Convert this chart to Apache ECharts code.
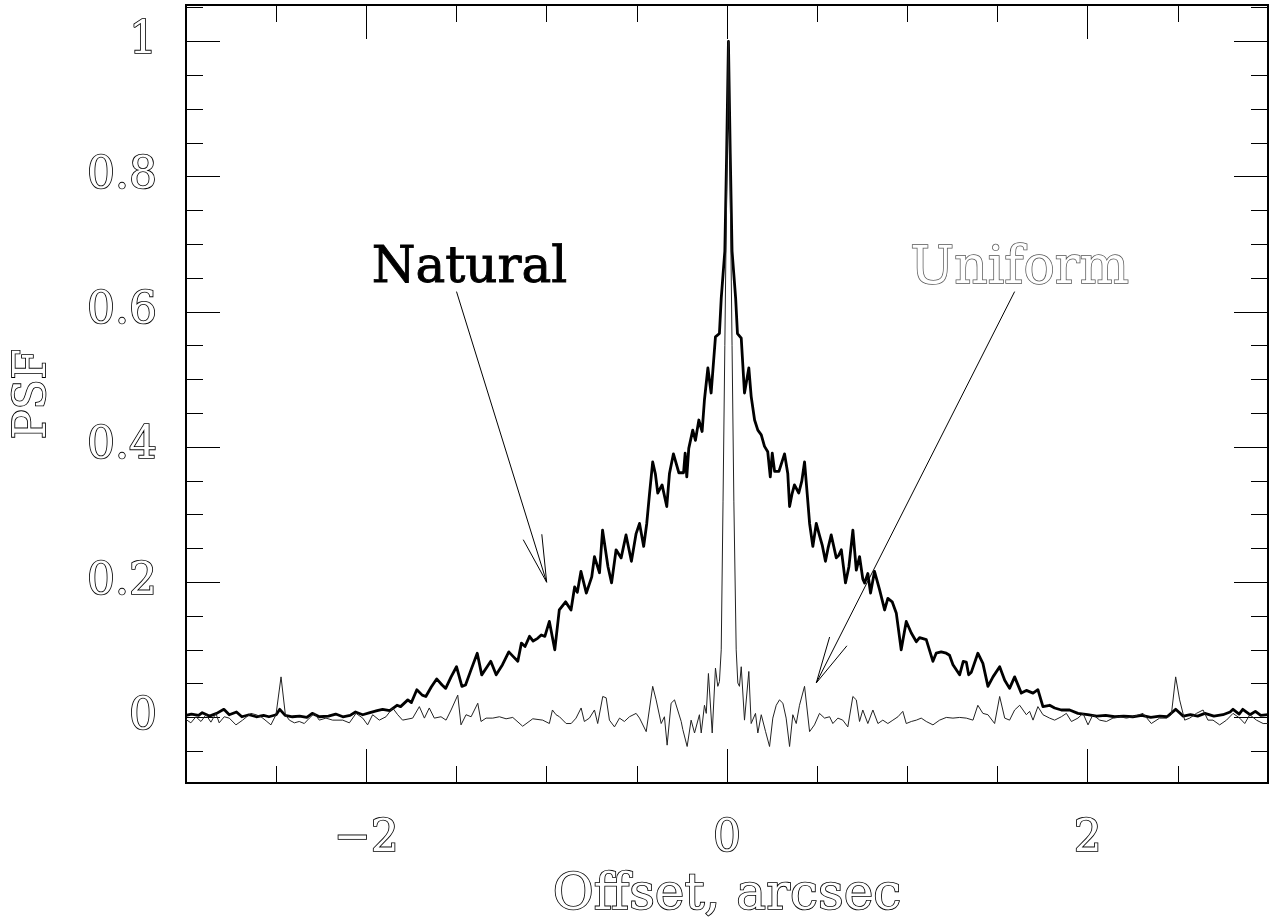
<!DOCTYPE html>
<html><head><meta charset="utf-8">
<script src="https://cdn.jsdelivr.net/npm/echarts@6/dist/echarts.min.js"></script>
<style>html,body{margin:0;padding:0;background:#fff}#c{width:1280px;height:917px}</style>
</head><body><div id="c"></div>
<script>
// ---------------- data ----------------
const xLabelValues = [-2, 0, 2];
const yLabelValues = [0, 0.2, 0.4, 0.6, 0.8, 1];
const xMinorTicks = [-2.5, -2, -1.5, -1, -0.5, 0, 0.5, 1, 1.5, 2, 2.5];
const xMajorTicks = [-2, 0, 2];
const yMinorTicks = [-0.05, 0, 0.05, 0.1, 0.15, 0.2, 0.25, 0.3, 0.35, 0.4, 0.45, 0.5, 0.55, 0.6, 0.65, 0.7, 0.75, 0.8, 0.85, 0.9, 0.95, 1, 1.05];
const yMajorTicks = [0, 0.2, 0.4, 0.6, 0.8, 1];

const naturalPoints = [
[-3.00,0.003],[-2.97,0.005],[-2.93,0.003],[-2.91,0.007],[-2.87,0.002],[-2.83,0.006],[-2.79,0.012],[-2.76,0.004],[-2.72,0.008],[-2.69,0.001],[-2.65,0.004],[-2.61,0.001],[-2.57,0.003],[-2.54,0.001],[-2.50,0.004],[-2.48,0.012],[-2.45,0.003],[-2.41,0.001],[-2.37,0.002],[-2.33,0.000],[-2.30,0.006],[-2.26,0.001],[-2.21,0.002],[-2.17,0.005],[-2.13,0.001],[-2.09,0.003],[-2.06,0.008],[-2.02,0.004],[-1.98,0.007],[-1.94,0.010],[-1.91,0.012],[-1.87,0.010],[-1.83,0.018],[-1.81,0.016],[-1.77,0.026],[-1.75,0.022],[-1.72,0.041],[-1.69,0.033],[-1.67,0.031],[-1.64,0.045],[-1.61,0.057],[-1.58,0.048],[-1.56,0.043],[-1.53,0.060],[-1.50,0.075],[-1.47,0.046],[-1.45,0.048],[-1.42,0.070],[-1.385,0.095],[-1.36,0.063],[-1.33,0.075],[-1.31,0.083],[-1.28,0.063],[-1.245,0.078],[-1.21,0.097],[-1.185,0.090],[-1.16,0.083],[-1.14,0.110],[-1.12,0.105],[-1.095,0.120],[-1.075,0.113],[-1.05,0.117],[-1.03,0.122],[-1.01,0.120],[-0.985,0.142],[-0.955,0.100],[-0.93,0.159],[-0.895,0.171],[-0.865,0.159],[-0.845,0.193],[-0.83,0.185],[-0.81,0.216],[-0.78,0.184],[-0.75,0.208],[-0.735,0.238],[-0.707,0.214],[-0.69,0.277],[-0.66,0.223],[-0.64,0.199],[-0.615,0.248],[-0.587,0.236],[-0.56,0.270],[-0.53,0.231],[-0.504,0.272],[-0.485,0.287],[-0.462,0.253],[-0.445,0.287],[-0.43,0.330],[-0.412,0.378],[-0.397,0.360],[-0.384,0.332],[-0.36,0.344],[-0.334,0.312],[-0.319,0.361],[-0.297,0.390],[-0.267,0.362],[-0.241,0.362],[-0.232,0.391],[-0.223,0.356],[-0.212,0.398],[-0.19,0.425],[-0.175,0.410],[-0.156,0.440],[-0.138,0.423],[-0.125,0.470],[-0.106,0.517],[-0.088,0.480],[-0.064,0.563],[-0.042,0.568],[-0.032,0.62],[-0.022,0.655],[-0.012,0.69],[-0.002,0.834],[0.008,1.0],[0.018,0.834],[0.028,0.69],[0.038,0.655],[0.048,0.62],[0.058,0.568],[0.079,0.561],[0.097,0.480],[0.121,0.517],[0.134,0.475],[0.153,0.440],[0.171,0.425],[0.190,0.418],[0.208,0.401],[0.226,0.393],[0.240,0.356],[0.251,0.391],[0.264,0.364],[0.288,0.364],[0.319,0.390],[0.337,0.361],[0.347,0.312],[0.360,0.330],[0.374,0.344],[0.398,0.332],[0.415,0.350],[0.430,0.378],[0.445,0.330],[0.458,0.287],[0.476,0.253],[0.495,0.287],[0.512,0.270],[0.528,0.255],[0.546,0.231],[0.560,0.250],[0.578,0.270],[0.606,0.236],[0.620,0.240],[0.634,0.248],[0.657,0.199],[0.676,0.223],[0.698,0.277],[0.717,0.218],[0.735,0.238],[0.753,0.205],[0.763,0.199],[0.781,0.213],[0.796,0.184],[0.818,0.216],[0.846,0.189],[0.874,0.159],[0.892,0.176],[0.916,0.171],[0.939,0.154],[0.966,0.100],[0.994,0.142],[1.022,0.125],[1.050,0.112],[1.068,0.118],[1.105,0.115],[1.142,0.083],[1.160,0.095],[1.188,0.097],[1.216,0.095],[1.234,0.092],[1.253,0.078],[1.290,0.063],[1.310,0.083],[1.327,0.082],[1.340,0.063],[1.355,0.067],[1.391,0.095],[1.419,0.080],[1.447,0.046],[1.475,0.060],[1.512,0.075],[1.540,0.055],[1.567,0.043],[1.595,0.060],[1.632,0.036],[1.660,0.040],[1.697,0.036],[1.724,0.041],[1.752,0.016],[1.789,0.018],[1.817,0.014],[1.854,0.011],[1.900,0.011],[1.946,0.006],[2.00,0.004],[2.05,0.002],[2.10,0.003],[2.15,0.001],[2.20,0.002],[2.25,0.001],[2.30,0.003],[2.35,0.000],[2.40,0.002],[2.44,0.001],[2.488,0.012],[2.53,0.002],[2.57,0.004],[2.61,0.002],[2.65,0.006],[2.70,0.002],[2.75,0.004],[2.79,0.008],[2.806,0.012],[2.84,0.005],[2.86,0.012],[2.90,0.004],[2.93,0.009],[2.96,0.003],[3.00,0.004]
];

const uniformPoints = [
[-3.0,-0.003],[-2.973,-0.008],[-2.945,0.001],[-2.917,-0.006],[-2.889,0.004],[-2.862,-0.007],[-2.834,0.006],[-2.816,-0.008],[-2.788,0.001],[-2.76,-0.001],[-2.723,-0.011],[-2.686,-0.004],[-2.64,0.006],[-2.612,0.004],[-2.584,0.001],[-2.556,-0.005],[-2.529,-0.011],[-2.501,0.004],[-2.473,0.060],[-2.449,0.004],[-2.427,-0.004],[-2.399,-0.008],[-2.372,-0.006],[-2.344,-0.009],[-2.316,-0.001],[-2.288,0.006],[-2.261,-0.004],[-2.224,-0.001],[-2.187,-0.004],[-2.131,-0.004],[-2.094,-0.008],[-2.057,0.006],[-2.02,-0.001],[-1.993,-0.011],[-1.965,0.004],[-1.928,-0.004],[-1.891,0.001],[-1.854,0.014],[-1.826,0.004],[-1.799,-0.004],[-1.743,-0.001],[-1.706,0.016],[-1.678,-0.001],[-1.651,0.014],[-1.623,-0.001],[-1.586,0.001],[-1.558,-0.004],[-1.53,0.011],[-1.493,0.033],[-1.475,-0.011],[-1.447,0.004],[-1.419,0.001],[-1.382,0.021],[-1.364,-0.006],[-1.336,-0.001],[-1.299,-0.001],[-1.262,0.001],[-1.225,-0.002],[-1.188,0.0],[-1.133,-0.013],[-1.077,-0.002],[-1.022,-0.004],[-0.985,-0.009],[-0.968,0.011],[-0.948,0.004],[-0.929,0.001],[-0.892,-0.009],[-0.864,-0.009],[-0.837,-0.001],[-0.809,0.014],[-0.791,-0.006],[-0.763,-0.001],[-0.735,0.011],[-0.717,-0.009],[-0.689,0.031],[-0.670,0.029],[-0.652,-0.004],[-0.624,-0.014],[-0.596,-0.001],[-0.569,-0.006],[-0.541,0.001],[-0.504,0.006],[-0.485,-0.001],[-0.448,-0.021],[-0.412,0.046],[-0.393,0.026],[-0.365,-0.009],[-0.347,0.001],[-0.332,-0.041],[-0.310,0.021],[-0.291,0.026],[-0.282,0.024],[-0.254,-0.006],[-0.245,-0.018],[-0.221,-0.043],[-0.199,-0.004],[-0.180,-0.023],[-0.153,0.004],[-0.143,-0.023],[-0.125,0.018],[-0.115,0.006],[-0.103,0.065],[-0.082,-0.023],[-0.064,0.073],[-0.051,0.046],[-0.042,0.053],[-0.032,0.10],[-0.022,0.32],[-0.012,0.55],[-0.002,0.78],[0.008,1.0],[0.018,0.78],[0.028,0.55],[0.038,0.32],[0.051,0.10],[0.060,0.051],[0.069,0.046],[0.079,0.075],[0.097,-0.004],[0.121,0.068],[0.134,-0.009],[0.158,0.006],[0.171,-0.023],[0.190,0.004],[0.214,-0.021],[0.236,-0.043],[0.254,-0.001],[0.273,0.018],[0.291,0.026],[0.310,0.021],[0.328,-0.001],[0.347,-0.043],[0.365,0.004],[0.384,-0.009],[0.402,0.018],[0.430,0.046],[0.458,-0.021],[0.485,-0.011],[0.513,0.006],[0.541,-0.001],[0.569,0.001],[0.587,-0.009],[0.615,-0.001],[0.642,-0.004],[0.670,-0.014],[0.698,0.031],[0.717,0.026],[0.735,-0.006],[0.753,0.011],[0.781,-0.009],[0.809,0.011],[0.837,-0.009],[0.864,-0.004],[0.892,-0.009],[0.920,-0.004],[0.948,0.001],[0.975,0.009],[0.994,-0.009],[1.022,-0.006],[1.050,-0.004],[1.077,-0.001],[1.105,-0.006],[1.142,-0.011],[1.179,-0.004],[1.216,0.0],[1.253,-0.001],[1.290,0.0],[1.327,-0.001],[1.364,-0.004],[1.391,0.018],[1.419,0.006],[1.447,0.004],[1.484,-0.009],[1.512,0.031],[1.540,-0.001],[1.567,-0.004],[1.595,0.011],[1.623,0.018],[1.660,0.004],[1.678,0.009],[1.697,-0.004],[1.724,0.016],[1.752,0.004],[1.789,-0.001],[1.817,-0.004],[1.854,0.001],[1.882,0.006],[1.910,-0.006],[1.946,-0.001],[1.974,0.006],[2.002,-0.011],[2.029,0.004],[2.067,-0.004],[2.104,-0.006],[2.140,-0.001],[2.178,0.001],[2.215,-0.001],[2.251,0.001],[2.307,0.006],[2.353,-0.009],[2.399,-0.001],[2.437,-0.001],[2.464,0.004],[2.488,0.060],[2.510,0.026],[2.538,-0.004],[2.566,-0.001],[2.603,0.006],[2.640,0.011],[2.667,-0.004],[2.695,-0.004],[2.732,-0.011],[2.770,-0.004],[2.806,0.006],[2.843,-0.001],[2.871,-0.009],[2.899,0.004],[2.936,-0.004],[2.973,-0.009],[3.0,-0.009]
];

const annotationNames = ['Natural', 'Uniform'];
const annotationAt = [[-1.428, 0.664], [1.623, 0.662]];
// arrows: [start, tip, head1, head2] in data units
const naturalArrow = [[-1.50, 0.63], [-1.0, 0.2], [-1.13, 0.263], [-1.027, 0.271]];
const uniformArrow = [[1.595, 0.63], [0.495, 0.051], [0.569, 0.119], [0.665, 0.106]];

// ---------------- chart ----------------
const FONT = 'DejaVu Serif';
const hollow = { color: '#ffffff', textBorderColor: '#000', textBorderWidth: 1.7 };
const fmtX = v => (v < 0 ? '\u2212' + (-v) : String(v));

function xAxisDef(pos, ticks, len, labels) {
  return {
    type: 'value', min: -3, max: 3, position: pos, gridIndex: 0,
    axisLine: { show: true, onZero: false, lineStyle: { color: '#000', width: 2 } },
    axisTick: { show: true, inside: true, length: len, customValues: ticks, lineStyle: { color: '#000', width: 1 } },
    axisLabel: labels ? Object.assign({ show: true, customValues: xLabelValues, formatter: fmtX,
      fontFamily: FONT, fontSize: 44, margin: 35 }, hollow) : { show: false },
    splitLine: { show: false },
    name: labels ? 'Offset, arcsec' : '', nameLocation: 'middle', nameGap: 88,
    nameTextStyle: Object.assign({ fontFamily: FONT, fontSize: 50 }, hollow)
  };
}
function yAxisDef(pos, ticks, len, labels) {
  return {
    type: 'value', min: -0.097, max: 1.054, position: pos, gridIndex: 0,
    axisLine: { show: true, onZero: false, lineStyle: { color: '#000', width: 2 } },
    axisTick: { show: true, inside: true, length: len, customValues: ticks, lineStyle: { color: '#000', width: 1 } },
    axisLabel: labels ? Object.assign({ show: true, customValues: yLabelValues, formatter: v => String(v),
      fontFamily: FONT, fontSize: 44, margin: 29 }, hollow) : { show: false },
    splitLine: { show: false },
    name: labels ? 'PSF' : '', nameLocation: 'middle', nameGap: 130,
    nameTextStyle: Object.assign({ fontFamily: FONT, fontSize: 44 }, hollow)
  };
}

function arrowSegs(a) {
  return [
    { coords: [a[0], a[1]] },
    { coords: [a[1], a[2]] },
    { coords: [a[1], a[3]] }
  ];
}

const chart = echarts.init(document.getElementById('c'), null, { renderer: 'canvas' });
chart.setOption({
  animation: false,
  backgroundColor: '#fff',
  grid: { left: 186, right: 12, top: 5, bottom: 134, containLabel: false, outerBoundsMode: 'none' },
  xAxis: [
    xAxisDef('bottom', xMinorTicks, 17, true),
    xAxisDef('bottom', xMajorTicks, 34, false),
    xAxisDef('top', xMinorTicks, 17, false),
    xAxisDef('top', xMajorTicks, 34, false)
  ],
  yAxis: [
    yAxisDef('left', yMinorTicks, 17, true),
    yAxisDef('left', yMajorTicks, 34, false),
    yAxisDef('right', yMinorTicks, 17, false),
    yAxisDef('right', yMajorTicks, 34, false)
  ],
  series: [
    { name: 'Natural', type: 'line', xAxisIndex: 0, yAxisIndex: 0, data: naturalPoints,
      symbol: 'none', showSymbol: false, z: 2,
      lineStyle: { color: '#000', width: 2.8, join: 'round' } },
    { name: 'Uniform', type: 'line', xAxisIndex: 0, yAxisIndex: 0, data: uniformPoints,
      symbol: 'none', showSymbol: false, z: 3,
      lineStyle: { color: '#222', width: 1 } },
    { name: 'arrows', type: 'lines', coordinateSystem: 'cartesian2d', xAxisIndex: 0, yAxisIndex: 0,
      polyline: false, z: 4,
      lineStyle: { color: '#000', width: 1, opacity: 1 },
      data: arrowSegs(naturalArrow).concat(arrowSegs(uniformArrow)) },
    { name: 'labels', type: 'scatter', xAxisIndex: 0, yAxisIndex: 0, symbolSize: 0, z: 5,
      silent: true, itemStyle: { opacity: 1 },
      data: [
        { value: annotationAt[0], itemStyle: { opacity: 1 },
          label: { show: true, position: 'inside', formatter: annotationNames[0], opacity: 1,
          fontFamily: FONT, fontSize: 50, fontWeight: 'normal', color: '#000', textBorderColor: '#000', textBorderWidth: 0.9 } },
        { value: annotationAt[1], itemStyle: { opacity: 1 },
          label: { show: true, position: 'inside', formatter: annotationNames[1], opacity: 1,
          fontFamily: FONT, fontSize: 52, color: '#fff', textBorderColor: '#555', textBorderWidth: 1.5 } }
      ] }
  ]
});
</script>
</body></html>
